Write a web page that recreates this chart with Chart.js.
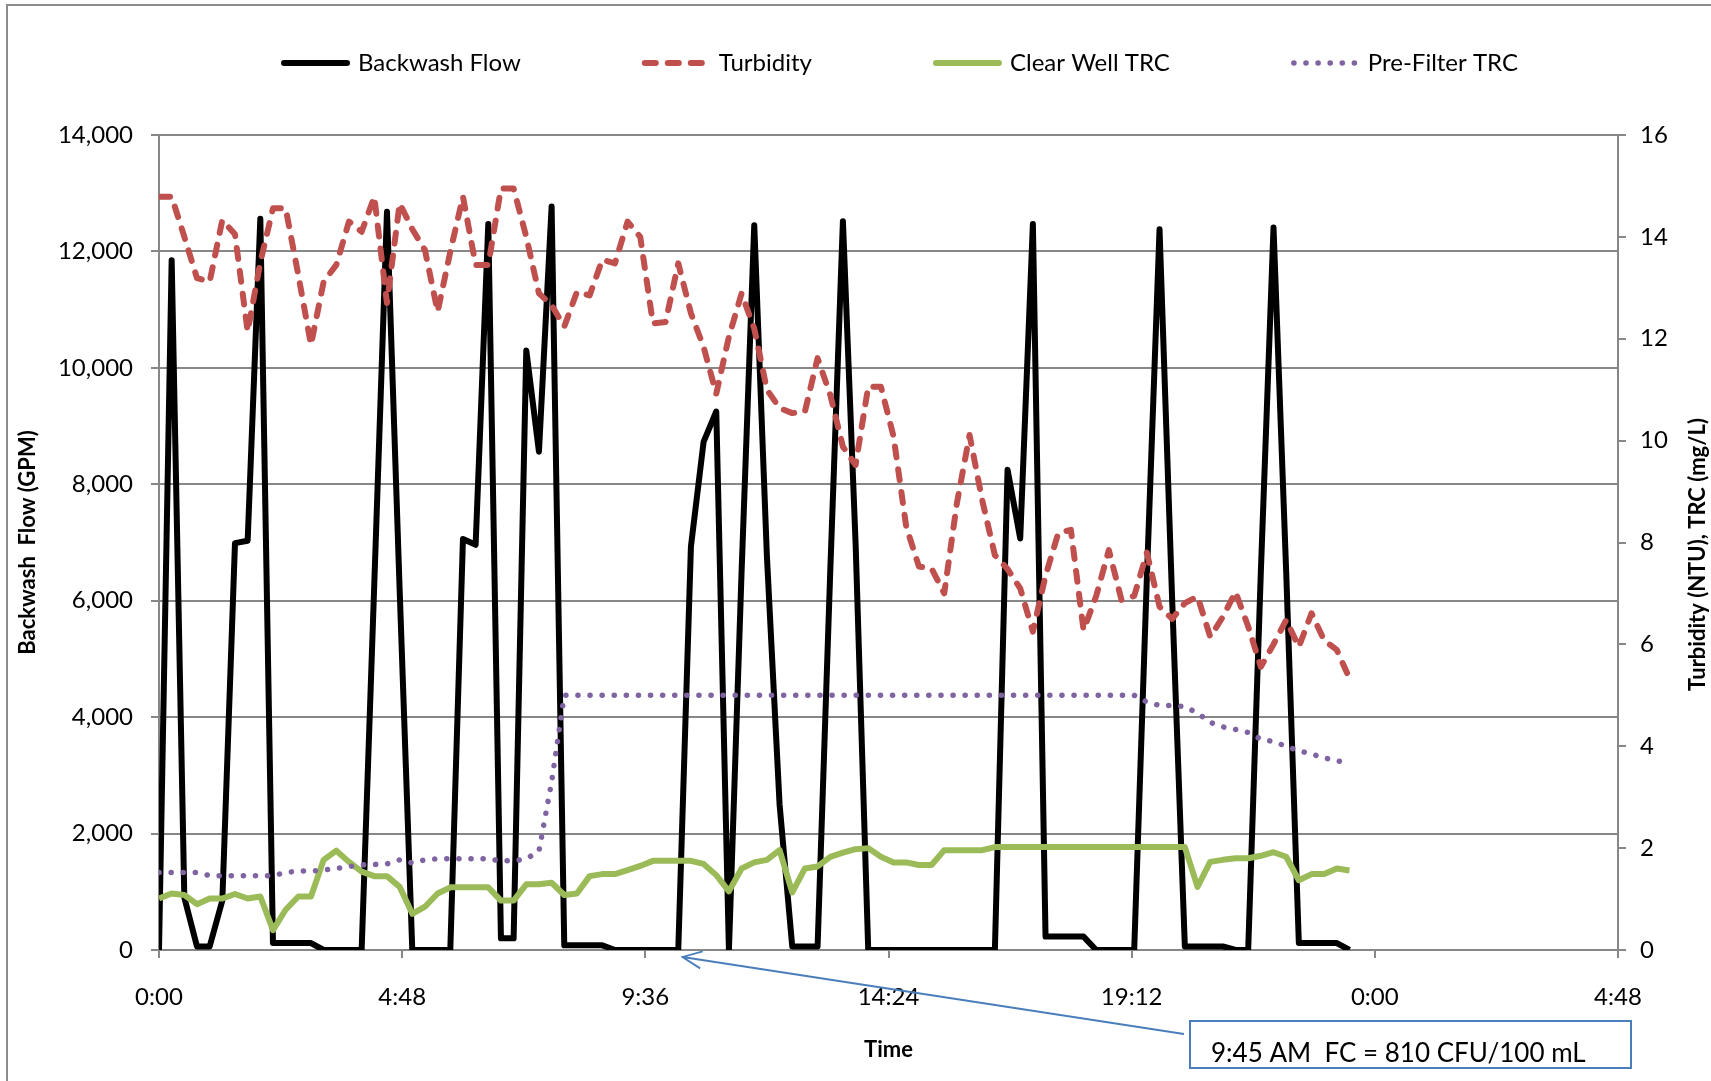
<!DOCTYPE html>
<html>
<head>
<meta charset="utf-8">
<script src="https://cdn.jsdelivr.net/npm/chart.js@4.4.1/dist/chart.umd.min.js"></script>
<style>
  html, body { margin: 0; padding: 0; background: #fff; overflow: hidden; }
  #wrap { position: relative; width: 1711px; height: 1081px; }
</style>
</head>
<body>
<div id="wrap"><canvas id="bwChart" width="1711" height="1081"></canvas></div>
<script>
// 15-minute readings over one day
const times = [
  '0:00','0:15','0:30','0:45','1:00','1:15','1:30','1:45','2:00','2:15',
  '2:30','2:45','3:00','3:15','3:30','3:45','4:00','4:15','4:30','4:45',
  '5:00','5:15','5:30','5:45','6:00','6:15','6:30','6:45','7:00','7:15',
  '7:30','7:45','8:00','8:15','8:30','8:45','9:00','9:15','9:30','9:45',
  '10:00','10:15','10:30','10:45','11:00','11:15','11:30','11:45','12:00','12:15',
  '12:30','12:45','13:00','13:15','13:30','13:45','14:00','14:15','14:30','14:45',
  '15:00','15:15','15:30','15:45','16:00','16:15','16:30','16:45','17:00','17:15',
  '17:30','17:45','18:00','18:15','18:30','18:45','19:00','19:15','19:30','19:45',
  '20:00','20:15','20:30','20:45','21:00','21:15','21:30','21:45','22:00','22:15',
  '22:30','22:45','23:00','23:15','23:30'
];

// GPM (left axis)
const backwashFlow = [
  0, 11850, 900, 60, 60, 850, 6990, 7030, 12560, 120,
  120, 120, 120, 0, 0, 0, 0, 6300, 12680, 6200,
  0, 0, 0, 0, 7060, 6960, 12470, 200, 200, 10300,
  8560, 12770, 80, 80, 80, 80, 0, 0, 0, 0,
  0, 0, 6930, 8730, 9250, 0, 6500, 12450, 6760, 2500,
  60, 60, 60, 6500, 12520, 7000, 0, 0, 0, 0,
  0, 0, 0, 0, 0, 0, 0, 8250, 7070, 12470,
  230, 230, 230, 230, 0, 0, 0, 0, 6400, 12380,
  6000, 60, 60, 60, 60, 0, 0, 6500, 12410, 6500,
  120, 120, 120, 120, 0
];

// NTU (right axis)
const turbidity = [
  14.79, 14.79, 14.0, 13.19, 13.12, 14.33, 14.05, 12.14, 13.5, 14.56,
  14.56, 13.25, 11.88, 13.12, 13.45, 14.30, 14.10, 14.79, 12.70, 14.66,
  14.15, 13.74, 12.53, 13.71, 14.79, 13.45, 13.45, 14.95, 14.95, 14.0,
  12.89, 12.66, 12.24, 12.92, 12.85, 13.55, 13.48, 14.30, 14.0, 12.30,
  12.33, 13.48, 12.50, 11.84, 10.92, 12.04, 12.89, 12.2, 11.0, 10.64,
  10.54, 10.57, 11.62, 10.9, 9.88, 9.52, 11.06, 11.06, 10.08, 8.31,
  7.53, 7.49, 7.0, 8.77, 10.11, 8.83, 7.75, 7.48, 7.1, 6.25,
  7.35, 8.18, 8.25, 6.28, 6.95, 7.85, 6.87, 6.95, 7.8, 6.74,
  6.5, 6.81, 6.94, 6.15, 6.54, 7.03, 6.35, 5.56, 6.0, 6.48,
  5.95, 6.61, 6.08, 5.89, 5.33
];

// mg/L (right axis)
const clearWellTRC = [
  1.01, 1.11, 1.08, 0.90, 1.01, 1.01, 1.10, 1.01, 1.05, 0.39,
  0.79, 1.05, 1.05, 1.77, 1.95, 1.73, 1.54, 1.45, 1.45, 1.24,
  0.71, 0.85, 1.11, 1.23, 1.23, 1.23, 1.23, 0.97, 0.97, 1.29,
  1.29, 1.32, 1.08, 1.11, 1.45, 1.49, 1.49, 1.57, 1.65, 1.75,
  1.75, 1.75, 1.75, 1.69, 1.47, 1.15, 1.60, 1.72, 1.77, 1.96,
  1.13, 1.60, 1.64, 1.83, 1.91, 1.98, 2.00, 1.83, 1.72, 1.72,
  1.67, 1.67, 1.96, 1.96, 1.96, 1.96, 2.02, 2.02, 2.02, 2.02,
  2.02, 2.02, 2.02, 2.02, 2.02, 2.02, 2.02, 2.02, 2.02, 2.02,
  2.02, 2.02, 1.24, 1.73, 1.77, 1.80, 1.80, 1.85, 1.92, 1.83,
  1.37, 1.49, 1.49, 1.60, 1.56
];

const preFilterTRC = [
  1.52, 1.52, 1.52, 1.52, 1.46, 1.46, 1.46, 1.46, 1.46, 1.46,
  1.52, 1.55, 1.55, 1.57, 1.60, 1.64, 1.67, 1.68, 1.69, 1.77,
  1.71, 1.77, 1.79, 1.79, 1.79, 1.79, 1.79, 1.75, 1.75, 1.79,
  1.94, 3.3, 5.0, 5.0, 5.0, 5.0, 5.0, 5.0, 5.0, 5.0,
  5.0, 5.0, 5.0, 5.0, 5.0, 5.0, 5.0, 5.0, 5.0, 5.0,
  5.0, 5.0, 5.0, 5.0, 5.0, 5.0, 5.0, 5.0, 5.0, 5.0,
  5.0, 5.0, 5.0, 5.0, 5.0, 5.0, 5.0, 5.0, 5.0, 5.0,
  5.0, 5.0, 5.0, 5.0, 5.0, 5.0, 5.0, 5.0, 4.87, 4.80,
  4.80, 4.78, 4.65, 4.47, 4.38, 4.33, 4.27, 4.14, 4.09, 4.00,
  3.91, 3.85, 3.77, 3.72, 3.65
];

// callout
const noteText = '9:45 AM  FC = 810 CFU/100 mL';
const noteTipTime = '10:20';

const gridGray = '#878787';
const calloutBlue = '#4A7EBB';

// "h:mm" -> fraction of a day (x axis is linear in days)
function dayFraction(t) {
  const [h, m] = t.split(':').map(Number);
  return (h * 60 + m) / 1440;
}

function timeLabel(v) {
  const mins = Math.round(v * 1440) % 1440;
  const h = Math.floor(mins / 60);
  const m = mins % 60;
  return h + ':' + String(m).padStart(2, '0');
}

const toPoints = vals => vals.map((v, i) => ({ x: dayFraction(times[i]), y: v }));

// frame, legend, right title and callout
const decorations = {
  id: 'decorations',
  beforeDraw(chart) {
    const ctx = chart.ctx;
    ctx.save();
    ctx.strokeStyle = '#8c8c8c';
    ctx.lineWidth = 2;
    ctx.beginPath();
    ctx.moveTo(7, chart.height);
    ctx.lineTo(7, 5);
    ctx.lineTo(chart.width, 5);
    ctx.stroke();
    ctx.restore();
  },
  afterDraw(chart) {
    const { ctx, chartArea, scales } = chart;

    // legend
    ctx.save();
    ctx.font = '24px Lato';
    const sampleW = 69, textGap = 8, itemGap = 121;
    const items = chart.data.datasets.map(ds => ({
      ds, w: sampleW + textGap + ctx.measureText(ds.label).width
    }));
    const total = items.reduce((a, it) => a + it.w, 0) + itemGap * (items.length - 1);
    let lx = (chartArea.left + chartArea.right) / 2 + 11 - total / 2;
    const ly = 63;
    items.forEach(({ ds, w }) => {
      ctx.beginPath();
      ctx.strokeStyle = ds.borderColor;
      ctx.lineWidth = ds.borderWidth;
      ctx.setLineDash(ds.borderDash || []);
      ctx.lineCap = 'round';
      ctx.moveTo(lx + 3, ly);
      ctx.lineTo(lx + sampleW - 3, ly);
      ctx.stroke();
      ctx.setLineDash([]);
      ctx.fillStyle = '#000';
      ctx.textAlign = 'left';
      ctx.textBaseline = 'middle';
      ctx.fillText(ds.label, lx + sampleW + textGap, ly);
      lx += w + itemGap;
    });
    ctx.restore();

    // right axis title, reads bottom to top
    ctx.save();
    ctx.translate(scales.y1.right - 13, (chartArea.top + chartArea.bottom) / 2 + 12);
    ctx.rotate(-Math.PI / 2);
    ctx.font = 'bold 22px Lato';
    ctx.fillStyle = '#000';
    ctx.textAlign = 'center';
    ctx.textBaseline = 'middle';
    ctx.fillText('Turbidity (NTU), TRC (mg/L)', 0, 0);
    ctx.restore();

    // callout box + arrow
    const tipX = scales.x.getPixelForValue(dayFraction(noteTipTime));
    const tipY = scales.y.getPixelForValue(0) + 7;
    const bx = 1190, by = 1021, bw = 441, bh = 47;
    const tailX = bx - 6, tailY = by + 13;
    ctx.save();
    ctx.strokeStyle = calloutBlue;
    ctx.lineWidth = 1.8;
    ctx.beginPath();
    ctx.moveTo(tailX, tailY);
    ctx.lineTo(tipX, tipY);
    const ang = Math.atan2(tailY - tipY, tailX - tipX);
    const head = 21, spread = 0.42;
    ctx.moveTo(tipX + head * Math.cos(ang - spread), tipY + head * Math.sin(ang - spread));
    ctx.lineTo(tipX, tipY);
    ctx.lineTo(tipX + head * Math.cos(ang + spread), tipY + head * Math.sin(ang + spread));
    ctx.stroke();
    ctx.fillStyle = '#fff';
    ctx.fillRect(bx, by, bw, bh);
    ctx.lineWidth = 2;
    ctx.strokeRect(bx, by, bw, bh);
    ctx.fillStyle = '#000';
    ctx.font = '26px Lato';
    ctx.textAlign = 'left';
    ctx.textBaseline = 'middle';
    ctx.fillText(noteText, bx + 21, by + 33);
    ctx.restore();
  }
};

Chart.defaults.font.family = 'Lato, "Open Sans", sans-serif';
Chart.defaults.font.size = 24;
Chart.defaults.color = '#000';

const ctx = document.getElementById('bwChart').getContext('2d');
const bwChart = new Chart(ctx, {
  type: 'line',
  data: {
    datasets: [
      {
        label: 'Backwash Flow',
        data: toPoints(backwashFlow),
        yAxisID: 'y',
        borderColor: '#000000',
        borderWidth: 6,
        order: 4
      },
      {
        label: 'Turbidity',
        data: toPoints(turbidity),
        yAxisID: 'y1',
        borderColor: '#C0504D',
        borderWidth: 6,
        borderDash: [11, 12],
        borderCapStyle: 'round',
        order: 3
      },
      {
        label: 'Clear Well TRC',
        data: toPoints(clearWellTRC),
        yAxisID: 'y1',
        borderColor: '#9BBB59',
        borderWidth: 6,
        order: 2
      },
      {
        label: 'Pre-Filter TRC',
        data: toPoints(preFilterTRC),
        yAxisID: 'y1',
        borderColor: '#8064A2',
        borderWidth: 5.5,
        borderDash: [0.1, 12],
        borderCapStyle: 'round',
        order: 1
      }
    ]
  },
  options: {
    responsive: false,
    animation: false,
    devicePixelRatio: 1,
    layout: { padding: { top: 135, left: 0, right: 0, bottom: 0 } },
    elements: {
      point: { radius: 0 },
      line: { tension: 0, fill: false, borderJoinStyle: 'round' }
    },
    plugins: {
      legend: { display: false },
      tooltip: { enabled: false }
    },
    scales: {
      x: {
        type: 'linear',
        position: 'bottom',
        min: 0,
        max: 1.2,
        afterFit: s => { s.height = 131; },
        ticks: { stepSize: 0.2, padding: 25, maxRotation: 0, autoSkip: false, callback: v => timeLabel(v) },
        grid: { drawOnChartArea: false, drawTicks: true, tickLength: 8, color: gridGray, lineWidth: 2 },
        border: { color: gridGray, width: 2 },
        title: { display: true, text: 'Time', font: { size: 22, weight: 'bold' }, padding: { top: 0, bottom: 18 } }
      },
      y: {
        position: 'left',
        min: 0,
        max: 14000,
        afterFit: s => { s.width = 159; },
        ticks: { stepSize: 2000, padding: 18 },
        grid: { color: gridGray, lineWidth: 2, tickLength: 8 },
        border: { color: gridGray, width: 2 },
        title: { display: true, text: 'Backwash  Flow (GPM)', font: { size: 22, weight: 'bold' }, padding: { top: 15, bottom: 0 } }
      },
      y1: {
        position: 'right',
        min: 0,
        max: 16,
        afterFit: s => { s.width = 93; },
        ticks: { stepSize: 2, padding: 14 },
        grid: { drawOnChartArea: false, color: gridGray, lineWidth: 2, tickLength: 8 },
        border: { color: gridGray, width: 2 }
      }
    }
  },
  plugins: [decorations]
});
</script>
</body>
</html>
